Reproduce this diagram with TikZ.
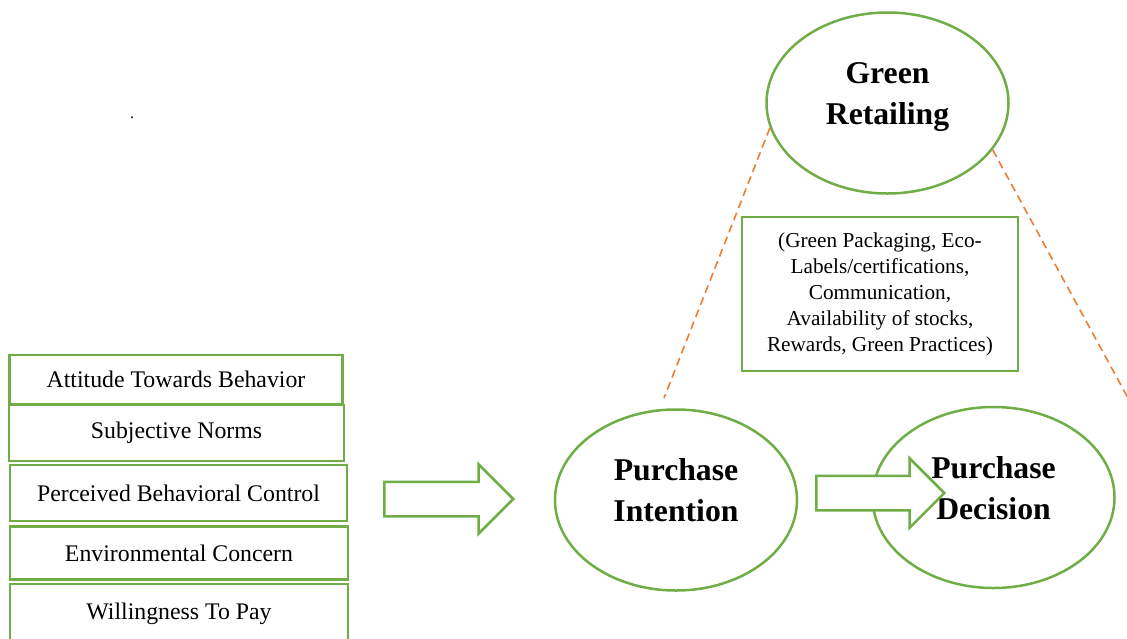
\documentclass[tikz,border=0pt]{standalone}
\usepackage{fontspec}
\setmainfont{Liberation Serif}
\usetikzlibrary{shapes.geometric,shapes.arrows}
\definecolor{leafgreen}{HTML}{70AD47}
\definecolor{dashorange}{HTML}{ED7D31}
\newcommand{\lowstrut}{\rule[-20pt]{0pt}{0pt}}
\begin{document}
\begin{tikzpicture}[x=1pt,y=-1pt,
    factor/.style={rectangle, draw=leafgreen, line width=2.5pt, inner sep=0pt, font=\fontsize{23.8}{28}\selectfont},
    stage/.style={ellipse, draw=leafgreen, line width=2.5pt, minimum width=242pt, minimum height=181pt, align=center, font=\fontsize{31.7}{41}\selectfont\bfseries},
    infobox/.style={rectangle, draw=leafgreen, line width=2.5pt, minimum width=276pt, minimum height=154pt, align=center, font=\fontsize{21.25}{26}\selectfont},
    blockarrow/.style={single arrow, draw=leafgreen, fill=white, line width=2.5pt, inner xsep=0pt, inner ysep=16pt, single arrow head extend=17.5pt, anchor=tail},
    link/.style={draw=dashorange, line width=1.6pt, dash pattern=on 8pt off 5pt}
]
    \useasboundingbox (0,0) rectangle (1127,638);

    % Column of factors
    \node[factor, minimum width=333pt, minimum height=49pt] (attitude) at (176,379.5) {Attitude Towards Behavior};
    \node[factor, minimum width=335pt, minimum height=56pt] (norms) at (176.5,433) {Subjective Norms};
    \node[factor, minimum width=337pt, minimum height=56pt] (control) at (178.5,493) {Perceived Behavioral Control};
    \node[factor, minimum width=338pt, minimum height=53pt] (concern) at (179,553) {Environmental Concern};
    \node[factor, minimum width=338pt, minimum height=60pt] (willing) at (179,614) {Willingness To Pay};
    \node[font=\fontsize{16}{18}\selectfont] (dot) at (132,118) {.};

    % Stages
    \node[stage] (intention) at (676,500) {Purchase\\Intention\lowstrut};
    \node[stage] (decision) at (993.5,497.5) {Purchase\\Decision\lowstrut};
    \node[stage] (retail) at (887.5,103) {Green\\Retailing\lowstrut};
    \node[infobox] (practices) at (880,294) {(Green Packaging, Eco-\\Labels/certifications,\\Communication,\\Availability of stocks,\\Rewards, Green Practices)};

    % Block arrows
    \node[blockarrow, minimum height=129pt] (arrowA) at (383,499) {};
    \node[blockarrow, minimum height=128pt] (arrowB) at (815,493) {};

    % Dashed links from green retailing
    \coordinate (linkL) at (664,398);
    \coordinate (linkR) at (1128,398);
    \draw[link] (retail.192) -- (linkL);
    \draw[link] (retail.336) -- (linkR);
\end{tikzpicture}
\end{document}
